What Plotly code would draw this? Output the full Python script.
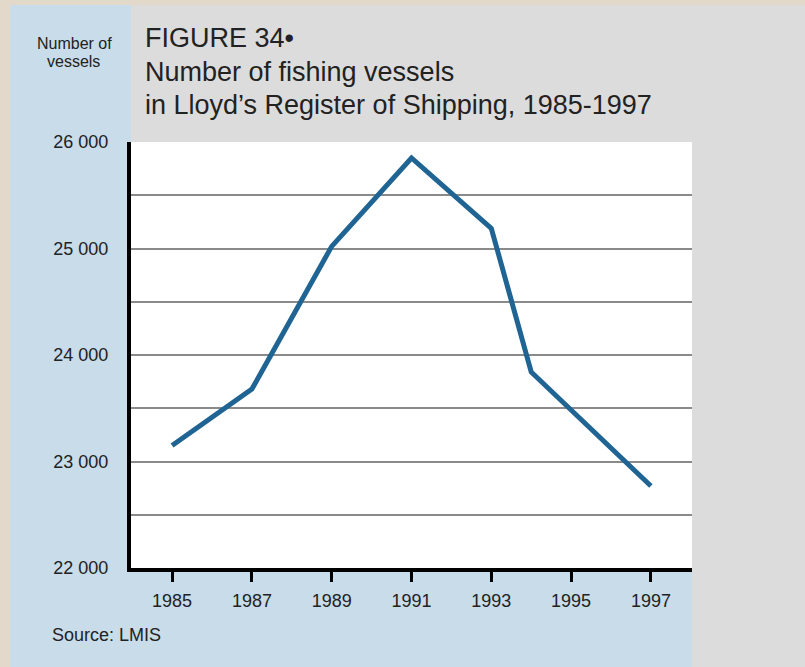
import plotly.graph_objects as go

# data (vertices of the line)
years = [1985, 1987, 1989, 1991, 1993, 1994, 1997]
vessels = [23150, 23680, 25020, 25850, 25190, 23840, 22770]

year_ticks = [1985, 1987, 1989, 1991, 1993, 1995, 1997]
y_ticks = [22000, 23000, 24000, 25000, 26000]
y_tick_text = ["22 000", "23 000", "24 000", "25 000", "26 000"]
y_grid = [22500, 23000, 23500, 24000, 24500, 25000, 25500]

W, H = 805, 667
L, R, T, B = 131, 692, 142, 568  # plot area in pixels

BEIGE = "#e2d9cb"
BLUE = "#c8dcea"
GRAY = "#dcdcdc"
FONT = "Liberation Sans, Arial, sans-serif"


def px(x):
    return (x - L) / (R - L)


def py(y):
    return (B - y) / (B - T)


def rect(x0, y0, x1, y1, color):
    return dict(type="rect", xref="paper", yref="paper", layer="below",
                x0=px(x0), x1=px(x1), y0=py(y1), y1=py(y0),
                fillcolor=color, line=dict(width=0))


fig = go.Figure()
fig.add_trace(go.Scatter(
    x=years, y=vessels, mode="lines",
    line=dict(color="#1f6493", width=5),
    hoverinfo="x+y", showlegend=False,
))

shapes = [
    rect(10, 5, 692, 667, BLUE),
    rect(131, 5, 805, 142, GRAY),
    rect(692, 5, 805, 667, GRAY),
    rect(L, T, R, B, "white"),
]


def note(text, x, y, size, anchor="left"):
    fig.add_annotation(text=text, x=px(x), y=py(y), xref="paper", yref="paper",
                       xanchor=anchor, yanchor="middle", showarrow=False,
                       font=dict(family=FONT, size=size, color="#222"))


note("FIGURE 34•", 143, 38, 27)
note("Number of fishing vessels", 143, 72, 27)
note("in Lloyd’s Register of Shipping, 1985-1997", 143, 105, 27)
note("Number of", 74, 43, 16, "center")
note("vessels", 73, 62, 16, "center")
note("Source: LMIS", 50, 635, 18)

fig.update_layout(
    width=W, height=H,
    margin=dict(l=L, r=W - R, t=T, b=H - B, pad=0),
    paper_bgcolor=BEIGE, plot_bgcolor="white",
    shapes=shapes,
    font=dict(family=FONT, size=18, color="#222"),
)
fig.update_xaxes(
    range=[1983.97, 1998.03], tickvals=year_ticks,
    showgrid=False, zeroline=False,
    showline=True, linecolor="black", linewidth=4,
    ticks="outside", ticklen=10, tickwidth=3, tickcolor="black",
    ticklabelstandoff=3,
)
fig.update_yaxes(
    range=[22000, 26000], tickvals=y_ticks, ticktext=y_tick_text,
    showgrid=False, zeroline=False,
    showline=True, linecolor="black", linewidth=4,
    ticks="outside", ticklen=15, tickcolor="rgba(0,0,0,0)",
    minor=dict(tickvals=y_grid, showgrid=True, gridcolor="#8a8a8a",
               gridwidth=2, ticks=""),
)

# drop the default page margin so the figure sits at the window corner
fig.write_html("out.html", config={"displayModeBar": False},
               post_script="document.body.style.margin='0';"
               "document.body.style.background='" + BEIGE + "';")
